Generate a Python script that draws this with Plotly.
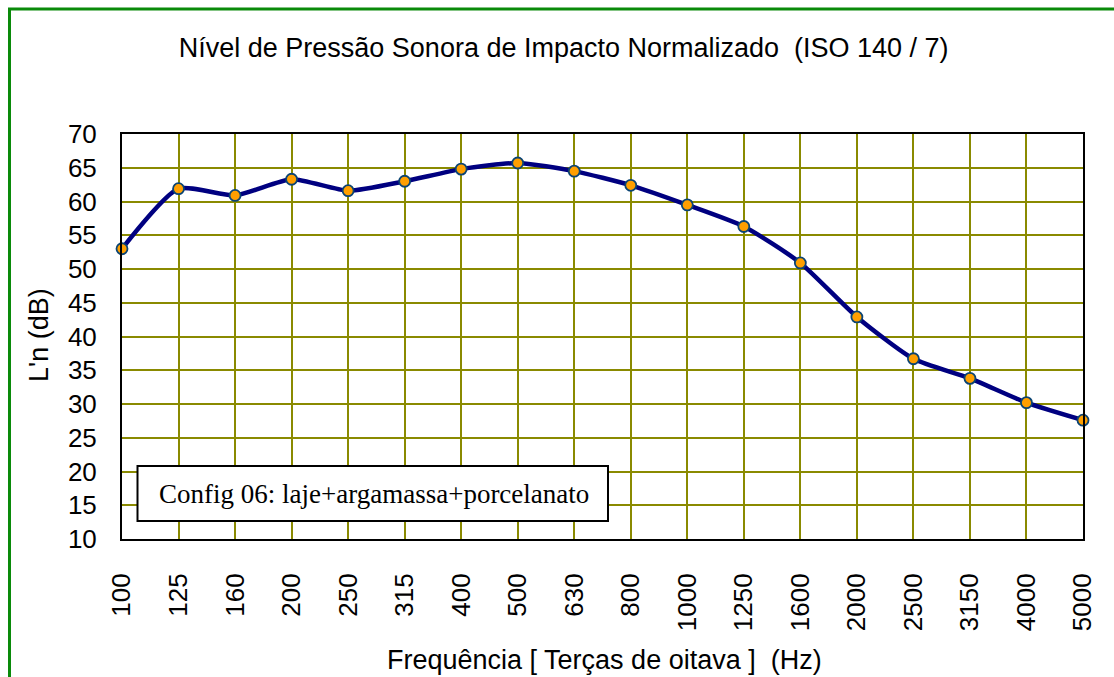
import plotly.graph_objects as go

# Third-octave band centre frequencies (Hz) and normalized impact sound level L'n (dB)
freqs = ["100", "125", "160", "200", "250", "315", "400", "500", "630", "800",
         "1000", "1250", "1600", "2000", "2500", "3150", "4000", "5000"]
ln_db = [53.0, 61.9, 60.9, 63.3, 61.6, 63.0, 64.8, 65.7, 64.5, 62.4,
         59.5, 56.3, 50.9, 42.9, 36.7, 33.8, 30.2, 27.6]

y_ticks = list(range(10, 75, 5))

W, H = 1114, 677
ML, MR, MT, MB = 122, 31, 134, 138
PW, PH = W - ML - MR, H - MT - MB


def px_x(p):
    return (p - ML) / PW


def px_y(p):
    return (H - MB - p) / PH


sans = "Liberation Sans, Arial, sans-serif"
serif = "Liberation Serif, Times New Roman, serif"
grid_col = "#8a8a00"

fig = go.Figure()
fig.add_trace(go.Scatter(
    x=freqs, y=ln_db,
    mode="lines+markers",
    line=dict(color="#000080", width=4.5, shape="spline", smoothing=0.6),
    marker=dict(size=11, color="#FF9F00", line=dict(color="#0B4473", width=1.8)),
    cliponaxis=False,
    showlegend=False,
))

fig.update_layout(
    width=W, height=H,
    margin=dict(l=ML, r=MR, t=MT, b=MB),
    paper_bgcolor="white",
    plot_bgcolor="white",
    font=dict(family=sans, color="black", size=26),
    title=dict(
        text="Nível de Pressão Sonora de Impacto Normalizado  (ISO 140 / 7)",
        font=dict(family=sans, size=27, color="black"),
        x=0.506, xanchor="center", xref="container",
        y=1 - 48 / H, yanchor="middle", yref="container",
    ),
    xaxis=dict(
        type="category",
        range=[0, len(freqs) - 1],
        showgrid=True, gridcolor=grid_col, gridwidth=2,
        showline=True, linecolor="black", linewidth=2, mirror=True,
        ticks="outside", ticklen=22, tickcolor="rgba(0,0,0,0)",
        tickangle=-90,
        tickfont=dict(family=sans, size=26),
        zeroline=False,
    ),
    yaxis=dict(
        range=[10, 70],
        tickvals=y_ticks,
        showgrid=True, gridcolor=grid_col, gridwidth=2,
        showline=True, linecolor="black", linewidth=2, mirror=True,
        ticks="outside", ticklen=18, tickcolor="rgba(0,0,0,0)",
        tickfont=dict(family=sans, size=26),
        zeroline=False,
    ),
    shapes=[
        # outer chart frame
        dict(type="rect", xref="paper", yref="paper",
             x0=px_x(9.5), x1=px_x(1140), y0=px_y(720), y1=px_y(9),
             line=dict(color="#0A8A0A", width=3), fillcolor="rgba(0,0,0,0)",
             layer="above"),
        # label box
        dict(type="rect", xref="paper", yref="paper",
             x0=px_x(137.5), x1=px_x(608), y0=px_y(521), y1=px_y(466),
             line=dict(color="black", width=2), fillcolor="white",
             layer="above"),
    ],
    annotations=[
        dict(text="Config 06: laje+argamassa+porcelanato",
             xref="paper", yref="paper",
             x=px_x(157), y=px_y(494), xanchor="left", yanchor="middle",
             showarrow=False,
             font=dict(family=serif, size=27, color="black")),
        dict(text="Frequência [ Terças de oitava ]  (Hz)",
             xref="paper", yref="paper",
             x=px_x(604), y=px_y(660), xanchor="center", yanchor="middle",
             showarrow=False,
             font=dict(family=sans, size=27, color="black")),
        dict(text="L'n (dB)",
             xref="paper", yref="paper",
             x=px_x(39), y=px_y(335), xanchor="center", yanchor="middle",
             textangle=-90, showarrow=False,
             font=dict(family=sans, size=27, color="black")),
    ],
)

fig.write_html("out.html")
